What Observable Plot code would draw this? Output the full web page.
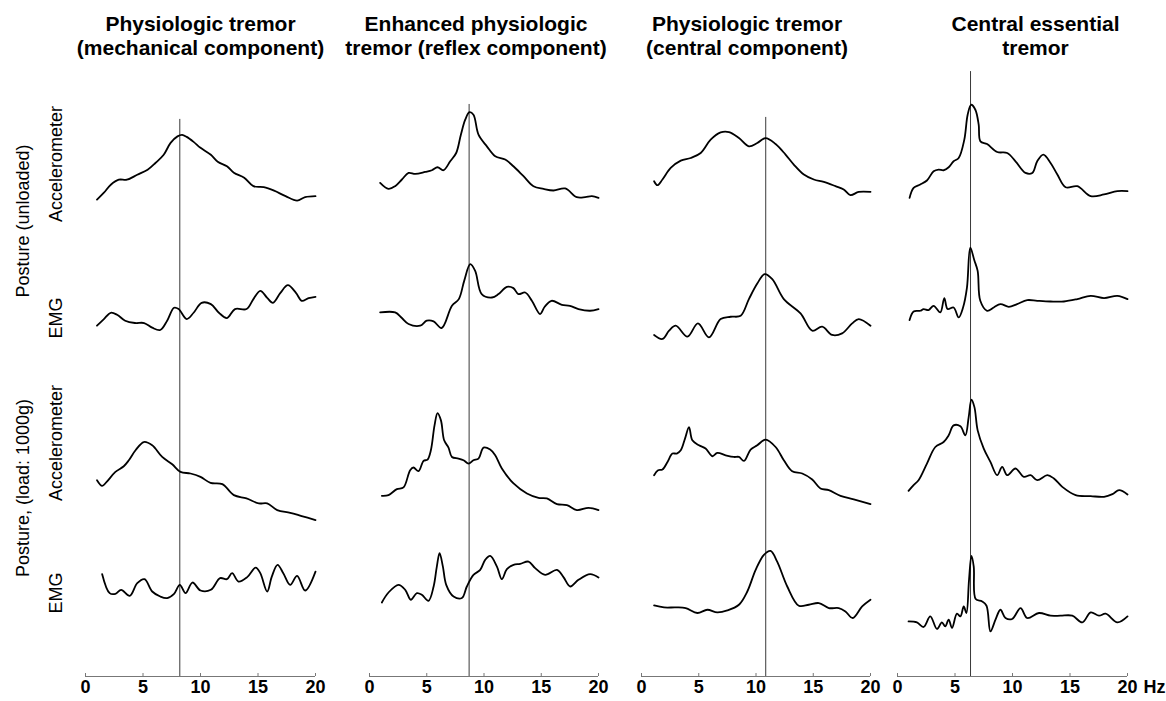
<!DOCTYPE html>
<html>
<head>
<meta charset="utf-8">
<script src="https://cdn.jsdelivr.net/npm/d3@7"></script>
<script src="https://cdn.jsdelivr.net/npm/@observablehq/plot@0.6"></script>
<style>
  html, body { margin: 0; padding: 0; background: #fff; }
  #chart { display: flex; width: 1166px; height: 701px; }
  #chart svg { overflow: visible; }
</style>
</head>
<body>
<div id="chart"></div>
<script>
// ---------- labels ----------
const rowKeys = ["accUnloaded", "emgUnloaded", "accLoaded", "emgLoaded"];
const rowLabels = ["Accelerometer", "EMG", "Accelerometer", "EMG"];
const groupLabels = ["Posture (unloaded)", "Posture, (load: 1000g)"];
const columnTitles = [
  "Physiologic tremor\n(mechanical component)",
  "Enhanced physiologic\ntremor (reflex component)",
  "Physiologic tremor\n(central component)",
  "Central essential\ntremor"
];
const xTicks = [0, 5, 10, 15, 20];
const unitLabel = "Hz";
// dominant frequency marked by the vertical line (Hz) and how high it reaches in the top row
const peakHz = [8.2, 8.7, 10.85, 6.35];
const peakLineTop = [122.5, 137.5, 124.5, 170.5];

// ---------- spectra: [frequency Hz, relative power] ----------
const mechAccUnloaded = [[1.0,42],[1.6,49],[2.2,57],[2.9,62],[3.6,62],[4.5,67],[5.4,72],[6.1,79],[6.8,87],[7.4,99],[8.0,105.5],[8.4,107],[8.8,105],[9.4,100],[10.0,94],[10.9,87],[11.5,80],[12.3,75.5],[12.9,69],[13.8,64],[14.6,55.5],[15.5,54.5],[16.4,51],[17.4,45.5],[18.4,41],[19.1,44.5],[20,45.5]];
const mechEmgUnloaded = [[1.0,61],[1.6,67.7],[2.2,74],[2.75,72],[3.45,66],[4.3,63.7],[5.1,63.7],[5.8,59],[6.5,56.7],[7.1,66],[7.7,79],[8.1,77.7],[8.8,67.7],[9.4,74],[10.1,84],[10.9,82.7],[11.6,74],[12.3,68.7],[13.0,77.7],[14.0,77.7],[14.6,87.7],[15.2,96],[15.8,89],[16.3,84],[16.95,94],[17.6,101.7],[18.3,94],[18.8,86],[19.4,88.7],[20,90]];
const mechAccLoaded = [[1.0,51.5],[1.45,45.8],[1.84,49.8],[2.6,59.8],[3.33,65.5],[3.77,71.5],[4.35,81.5],[5.07,89.8],[5.8,86.5],[6.67,74.8],[7.54,67.5],[8.26,59.8],[9.13,58.2],[10.0,54.8],[10.87,48.8],[11.9,47.5],[12.9,36.5],[14.0,33.2],[15.07,28.2],[15.8,28.2],[16.67,21.5],[17.8,18.8],[18.8,15.5],[20,11.5]];
const mechEmgLoaded = [[1.45,102.7],[2.1,83.7],[2.6,83],[3.1,87],[3.85,81],[4.5,93.7],[5.13,97.7],[5.8,85.3],[6.5,80.3],[7.1,78.7],[7.7,83],[8.2,92],[8.7,83.7],[9.3,94.3],[10.0,86.3],[10.9,87],[11.7,98.7],[12.3,97.7],[12.75,103.7],[13.3,95.3],[14.06,99.7],[14.8,109.3],[15.2,103.7],[15.8,85.3],[16.2,100.3],[16.7,112],[17.2,103.7],[17.8,92],[18.4,101],[19.1,86.3],[20,105.3]];

const reflexAccUnloaded = [[0.93,58.8],[1.66,52.8],[2.24,55.5],[2.83,62.2],[3.41,68.8],[4.0,67.8],[4.86,69.8],[5.45,71.5],[5.94,74.5],[6.46,71.5],[7.05,80.5],[7.57,88.8],[7.98,107.2],[8.36,122.2],[8.73,129.8],[9.08,127.2],[9.52,107.2],[10.25,95.5],[10.98,85.5],[11.85,82.2],[12.57,75.5],[13.45,65.5],[14.32,55.5],[15.2,52.8],[16.07,51.2],[17.09,53.2],[18.1,44.5],[18.84,44.5],[19.42,45.5],[20,43.8]];
const reflexEmgUnloaded = [[0.93,74.3],[2.24,74.3],[2.83,68.7],[3.41,62.7],[4.43,61],[5.0,66],[5.6,65.3],[6.3,58.7],[7.2,81],[7.8,87.7],[8.27,106],[8.8,122.7],[9.23,116],[9.8,92.7],[10.7,89.3],[11.27,92.7],[12.0,100],[12.57,98.7],[13.0,92.7],[13.6,94.3],[14.18,86],[14.9,72.7],[15.3,80],[15.9,86],[16.8,82],[17.5,81],[18.25,77.7],[19.27,76],[20,77.7]];
const reflexAccLoaded = [[1.08,35.8],[1.66,36.5],[2.39,42.5],[2.97,44.2],[3.55,61.5],[3.84,64.2],[4.28,60.5],[4.72,70.8],[5.07,72.2],[5.36,81.5],[5.68,106.5],[5.94,118.8],[6.24,111.5],[6.52,91.5],[6.9,84.2],[7.2,74.8],[7.77,73.2],[8.21,71.5],[8.65,68.2],[9.08,71.5],[9.52,73.2],[9.96,84.2],[10.54,82.2],[10.98,76.5],[11.56,63.2],[12.58,48.2],[13.75,38.2],[14.76,33.8],[15.49,33.2],[16.37,27.5],[17.24,26.5],[18.11,21.5],[19.13,23.8],[20,21.5]];
const reflexEmgLoaded = [[1.08,74.3],[1.66,84.3],[2.53,92],[3.12,87],[3.61,77],[4.14,83.7],[4.57,82],[5.15,76],[5.6,90.3],[5.88,110.3],[6.12,123.7],[6.41,110.3],[6.7,92],[7.34,80.3],[8.07,78.7],[8.5,90.3],[9.08,102],[9.67,107],[10.1,117],[10.54,121],[11.13,110.3],[11.56,97.7],[12.0,107.7],[12.58,112],[13.16,113],[13.89,115.3],[14.47,108.7],[15.34,102],[16.37,107],[16.94,99.7],[17.53,90.3],[18.25,97],[19.27,102.7],[20,99.3]];

const centralAccUnloaded = [[1.1,60.5],[1.39,56.5],[1.83,62.2],[2.55,73.8],[3.43,81.2],[4.3,83.8],[5.17,88.8],[6.04,102.2],[6.91,109.5],[7.64,109.8],[8.51,103.8],[9.38,95.5],[10.11,98.8],[10.84,103.8],[11.71,97.8],[12.58,87.2],[13.3,77.2],[14.18,67.2],[15.05,62.2],[15.92,59.8],[16.94,55.5],[17.66,52.2],[18.25,46.5],[18.97,49.8],[20,49.8]];
const centralEmgUnloaded = [[1.1,51.7],[1.83,47.7],[2.41,56],[2.99,61],[4.01,50],[4.93,63.3],[5.89,49.3],[6.91,67.7],[7.79,70],[8.66,71],[9.38,87.7],[10.11,103.3],[10.75,112.7],[11.42,107.7],[12.43,87.7],[13.89,73.3],[14.91,56],[15.78,60],[16.65,51.7],[17.52,53.3],[18.4,63.3],[18.97,67.7],[20,61]];
const centralAccLoaded = [[1.1,56.5],[1.45,61.5],[1.83,62.2],[2.27,69.8],[2.7,78.2],[3.08,78.2],[3.43,81.5],[3.8,93.2],[4.15,104.8],[4.44,91.5],[5.02,86.5],[5.6,83.2],[6.19,75.5],[6.62,78.8],[7.35,76.5],[8.07,74.8],[8.51,74.8],[8.95,70.8],[9.53,82.2],[10.11,86.5],[10.84,92.2],[11.71,84.8],[12.43,71.5],[13.16,60.5],[14.04,58.2],[14.91,52.2],[15.63,43.2],[16.36,41.5],[17.38,35.8],[18.54,32.2],[20,27.5]];
const centralEmgLoaded = [[1.1,71.3],[1.97,69.3],[2.99,69.3],[3.86,68.7],[4.88,63.7],[5.75,67],[6.62,64.3],[7.5,66.3],[8.51,72],[9.24,85.3],[9.97,107],[10.69,122],[11.27,126],[11.85,115.3],[12.73,90.3],[13.74,71],[14.61,72],[15.49,73.7],[16.36,68.7],[17.23,68.7],[17.81,65.3],[18.45,58.7],[19.27,70.3],[20,77]];

const essentialAccUnloaded = [[1.05,43.8],[1.4,53.8],[1.98,57.2],[2.56,61.2],[3.14,70.5],[3.57,72.2],[4.01,71.5],[4.45,74.5],[4.88,80.5],[5.32,83.8],[5.81,102.2],[6.1,127.2],[6.4,137.2],[6.77,132.2],[7.06,117.2],[7.21,100.5],[7.79,97.8],[8.67,89.8],[9.54,88.8],[10.26,80.5],[11.13,68.8],[11.72,68.8],[12.15,80.5],[12.68,87.2],[13.31,78.8],[13.9,67.2],[14.62,54.5],[15.64,55.5],[16.8,45.5],[17.96,47.2],[19.12,50.5],[20,50.5]];
const essentialEmgUnloaded = [[1.05,66.7],[1.4,75.3],[1.98,76],[2.27,77.7],[2.7,76.7],[3.14,81],[3.72,74.3],[4.07,88.7],[4.36,77.7],[4.88,79.3],[5.32,69.3],[5.7,79.3],[6.04,99.3],[6.33,139.3],[6.68,126.7],[6.97,116],[7.2,86],[7.79,76],[8.37,79.3],[8.95,82.7],[9.68,80],[10.4,82.7],[11.28,86.7],[12.15,86],[13.31,85.3],[14.47,85.3],[15.64,87.7],[16.8,91],[17.96,88.7],[19.12,91],[20,87.7]];
const essentialAccLoaded = [[0.96,40.8],[1.4,46.5],[1.83,51.5],[2.56,68.2],[3.29,84.8],[4.01,89.8],[4.45,96.5],[4.88,106.5],[5.47,105.5],[5.9,96.5],[6.19,114.8],[6.43,132.2],[6.69,124.8],[6.97,101.5],[7.5,83.2],[8.08,69.8],[8.67,56.5],[9.1,64.8],[9.54,56.5],[10.26,63.2],[10.99,54.8],[11.57,56.5],[12.15,51.5],[13.03,56.5],[13.6,53.2],[14.33,44.8],[15.49,36.5],[16.8,35.5],[17.96,34.8],[18.69,37.5],[19.27,41.5],[20,37.2]];
const essentialEmgLoaded = [[0.96,55.3],[1.69,54.3],[2.27,49.7],[2.85,60.3],[3.43,47.7],[3.86,54.3],[4.15,50.3],[4.45,57],[4.74,48.7],[5.17,63],[5.47,60.3],[5.76,70.3],[5.99,63.7],[6.22,97],[6.43,121],[6.63,110.3],[6.8,77.7],[7.36,75.3],[7.74,71],[8.08,45.3],[8.52,57],[8.95,67],[9.39,58.7],[9.97,57.7],[10.7,68.7],[11.28,58.7],[12.3,63.7],[13.31,61],[14.18,61],[15.2,61],[16.07,54.3],[16.8,64.3],[17.52,61],[18.1,63],[19.12,54.3],[20,60.3]];

// ---------- assembly ----------
const BAND = 145.5;   // relative-power range shown in each row
const spectraByColumn = [
  [mechAccUnloaded, mechEmgUnloaded, mechAccLoaded, mechEmgLoaded],
  [reflexAccUnloaded, reflexEmgUnloaded, reflexAccLoaded, reflexEmgLoaded],
  [centralAccUnloaded, centralEmgUnloaded, centralAccLoaded, centralEmgLoaded],
  [essentialAccUnloaded, essentialEmgUnloaded, essentialAccLoaded, essentialEmgLoaded]
];
const layout = [
  {width: 342, marginLeft: 85, marginRight: 27, titleDx: 0},
  {width: 278, marginLeft: 27, marginRight: 22, titleDx: -8},
  {width: 264, marginLeft: 21, marginRight: 14, titleDx: -9},
  {width: 282, marginLeft: 13, marginRight: 39, titleDx: 23}
];
const rowLabelDy = [-5, 4, -16, -11];
const font = "'Liberation Sans', Arial, Helvetica, sans-serif";

const chart = document.getElementById("chart");

spectraByColumn.forEach((spectra, c) => {
  const L = layout[c];
  const points = spectra.flatMap((s, r) => s.map(([hz, power]) => ({row: rowKeys[r], hz, power})));
  const peakRows = rowKeys.map((row, r) => ({row, hz: peakHz[c], top: r === 0 ? peakLineTop[c] : BAND}));

  const marks = [
    Plot.ruleX(peakRows, {x: "hz", y1: () => 0, y2: "top", fy: "row", stroke: "#222", strokeWidth: 0.9}),
    Plot.line(points, {x: "hz", y: "power", fy: "row", curve: "catmull-rom", stroke: "#000", strokeWidth: 1.8}),
    Plot.ruleY([0], {fy: [rowKeys[3]], x1: xTicks[0], x2: xTicks[xTicks.length - 1], stroke: "#777", strokeWidth: 1}),
    Plot.axisX(xTicks, {tickSize: 3, dy: -3, fill: "none", stroke: "#777", label: null}),
    Plot.axisX(xTicks, {tickSize: 0, tickPadding: 4, fontSize: 18, fontWeight: "bold", fill: "#000", label: null}),
    Plot.text([columnTitles[c]], {
      fy: [rowKeys[0]], frameAnchor: "top", dy: -61.5, dx: L.titleDx,
      fontSize: 21, fontWeight: "bold", lineHeight: 1.19, lineAnchor: "middle", textAnchor: "middle", fill: "#000"
    })
  ];

  if (c === 0) {
    rowKeys.forEach((key, r) => {
      marks.push(Plot.text([rowLabels[r]], {
        fy: [key], frameAnchor: "left", textAnchor: "middle", lineAnchor: "middle", rotate: -90,
        dx: -29, dy: rowLabelDy[r], fontSize: 18, fill: "#000"
      }));
    });
    marks.push(Plot.text([groupLabels[0]], {
      fy: [rowKeys[0]], frameAnchor: "bottom-left", textAnchor: "middle", lineAnchor: "middle", rotate: -90,
      dx: -62, dy: -20.5, fontSize: 18, fill: "#000"
    }));
    marks.push(Plot.text([groupLabels[1]], {
      fy: [rowKeys[2]], frameAnchor: "bottom-left", textAnchor: "middle", lineAnchor: "middle", rotate: -90,
      dx: -62, dy: -43.5, fontSize: 18, fill: "#000"
    }));
  }
  if (c === spectraByColumn.length - 1) {
    marks.push(Plot.text([unitLabel], {
      x: [xTicks[xTicks.length - 1]], fy: [rowKeys[3]], frameAnchor: "bottom",
      textAnchor: "start", lineAnchor: "top", dx: 16, dy: 4, fontSize: 18, fontWeight: "bold", fill: "#000"
    }));
  }

  const svg = Plot.plot({
    width: L.width,
    height: 701,
    marginLeft: L.marginLeft,
    marginRight: L.marginRight,
    marginTop: 95,
    marginBottom: 24,
    facet: {marginTop: 0, marginRight: 0, marginBottom: 0, marginLeft: 0},
    style: {fontFamily: font, background: "#fff", overflow: "visible"},
    x: {domain: [0, 20], label: null},
    y: {domain: [0, BAND], axis: null},
    fy: {domain: rowKeys, padding: 0, axis: null, label: null},
    marks
  });
  chart.appendChild(svg);
});
</script>
</body>
</html>
